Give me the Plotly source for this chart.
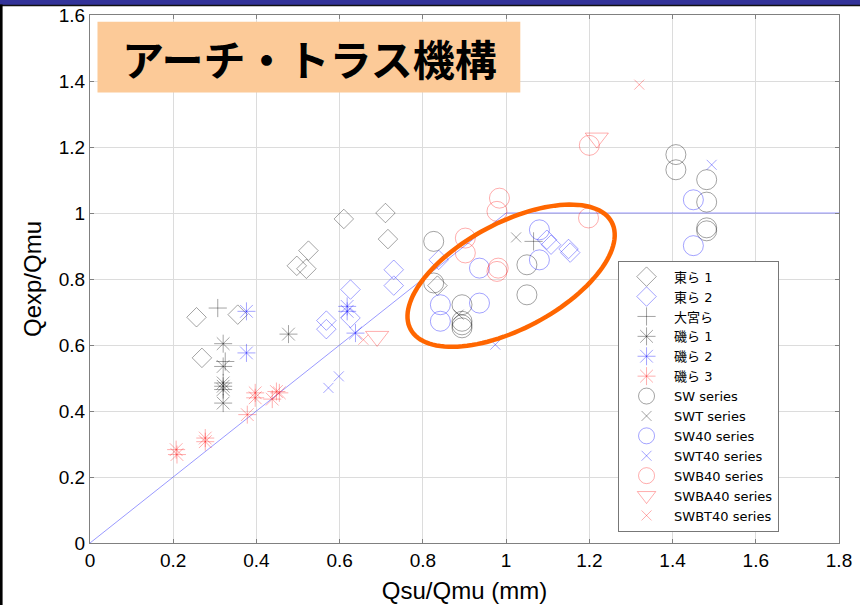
import numpy as np
import plotly.graph_objects as go

# ---------------- data ----------------
higashi1_x = [0.256, 0.269, 0.355, 0.497, 0.525, 0.520, 0.610, 0.710, 0.716, 0.835]
higashi1_y = [0.684, 0.561, 0.692, 0.840, 0.886, 0.831, 0.982, 1.000, 0.921, 0.780]

higashi2_x = [0.568, 0.568, 0.626, 0.626, 0.730, 0.730, 0.838, 1.098, 1.108, 1.150, 1.154]
higashi2_y = [0.674, 0.648, 0.768, 0.682, 0.828, 0.780, 0.858, 0.919, 0.904, 0.891, 0.880]

omiya_x = [0.307, 0.325, 1.066]
omiya_y = [0.712, 0.550, 0.914]

iso1_x = [0.320, 0.320, 0.320, 0.320, 0.320, 0.320, 0.477]
iso1_y = [0.604, 0.535, 0.485, 0.475, 0.465, 0.424, 0.633]

iso2_x = [0.376, 0.376, 0.618, 0.618, 0.638]
iso2_y = [0.702, 0.576, 0.717, 0.702, 0.636]

iso3_x = [0.207, 0.209, 0.277, 0.277, 0.378, 0.397, 0.397, 0.438, 0.448, 0.455]
iso3_y = [0.283, 0.268, 0.318, 0.307, 0.389, 0.455, 0.440, 0.436, 0.459, 0.455]

sw_x = [0.826, 0.826, 0.894, 0.894, 0.894, 0.894, 1.050, 1.050,
        1.408, 1.408, 1.482, 1.482, 1.482, 1.482]
sw_y = [0.914, 0.788, 0.722, 0.672, 0.661, 0.652, 0.843, 0.752,
        1.177, 1.131, 1.101, 1.033, 0.955, 0.946]

swt_x = [1.024, 0.886]
swt_y = [0.926, 0.692]

sw40_x = [0.842, 0.842, 0.936, 0.936, 1.080, 1.080, 1.450, 1.450]
sw40_y = [0.722, 0.672, 0.833, 0.727, 0.949, 0.858, 1.040, 0.901]

swt40_x = [0.598, 0.573, 0.974, 1.494]
swt40_y = [0.505, 0.470, 0.601, 1.146]

swb40_x = [0.984, 0.978, 0.902, 0.902, 0.981, 0.978, 1.198, 1.200]
swb40_y = [1.045, 1.005, 0.924, 0.879, 0.833, 0.823, 0.985, 1.205]

swba40_x = [0.690, 1.218]
swba40_y = [0.626, 1.227]

swbt40_x = [1.320, 0.657]
swbt40_y = [1.389, 0.616]

# reference line: Qexp/Qmu = min(Qsu/Qmu, 1)
ref_x = [0.0, 1.0, 1.8]
ref_y = [0.0, 1.0, 1.0]

x_ticks = [0, 0.2, 0.4, 0.6, 0.8, 1.0, 1.2, 1.4, 1.6, 1.8]
x_tick_text = ["0", "0.2", "0.4", "0.6", "0.8", "1", "1.2", "1.4", "1.6", "1.8"]
y_ticks = [0, 0.2, 0.4, 0.6, 0.8, 1.0, 1.2, 1.4, 1.6]
y_tick_text = ["0", "0.2", "0.4", "0.6", "0.8", "1", "1.2", "1.4", "1.6"]

series_names = ["東ら 1", "東ら 2", "大宮ら", "磯ら 1", "磯ら 2", "磯ら 3",
                "SW series", "SWT series", "SW40 series", "SWT40 series",
                "SWB40 series", "SWBA40 series", "SWBT40 series"]

# ---------------- styles ----------------
BLACK = "rgba(0,0,0,0.36)"
BLUE = "rgba(0,0,255,0.36)"
RED = "rgba(255,0,0,0.32)"

series = [
    (higashi1_x, higashi1_y, "diamond-open", BLACK, 15),
    (higashi2_x, higashi2_y, "diamond-open", BLUE, 15),
    (omiya_x, omiya_y, "cross-thin-open", BLACK, 13),
    (iso1_x, iso1_y, "asterisk-open", BLACK, 15),
    (iso2_x, iso2_y, "asterisk-open", BLUE, 15),
    (iso3_x, iso3_y, "asterisk-open", RED, 15),
    (sw_x, sw_y, "circle-open", BLACK, 20),
    (swt_x, swt_y, "x-thin-open", BLACK, 10),
    (sw40_x, sw40_y, "circle-open", BLUE, 20),
    (swt40_x, swt40_y, "x-thin-open", BLUE, 10),
    (swb40_x, swb40_y, "circle-open", RED, 20),
    (swba40_x, swba40_y, "triangle-down-open", RED, 20),
    (swbt40_x, swbt40_y, "x-thin-open", RED, 10),
]

FONT = "Liberation Sans, Arial, Noto Sans CJK JP, sans-serif"
LEGEND_FONT = "DejaVu Sans, Noto Sans CJK JP, sans-serif"

fig = go.Figure()

fig.add_trace(go.Scatter(x=ref_x, y=ref_y, mode="lines",
                         line=dict(color="rgba(0,0,255,0.4)", width=1),
                         showlegend=False, hoverinfo="skip"))

for name, (xs, ys, sym, col, size) in zip(series_names, series):
    fig.add_trace(go.Scatter(
        x=xs, y=ys, mode="markers", name=name,
        marker=dict(symbol=sym, color=col, size=size, line=dict(width=1, color=col)),
    ))

# ---------------- orange ellipse annotation ----------------
PX_PER_X = 416.4   # pixels per x unit
PX_PER_Y = 330.0   # pixels per y unit
ell_cx, ell_cy = 1.012, 0.810      # centre (data units)
ell_a, ell_b = 114.0, 53.0         # semi axes (pixels)
ell_ang = np.deg2rad(28.0)         # tilt (up-right)
t = np.linspace(0, 2 * np.pi, 121)
du = ell_a * np.cos(t)
dv = ell_b * np.sin(t)
dx_px = du * np.cos(ell_ang) - dv * np.sin(ell_ang)
dy_px = du * np.sin(ell_ang) + dv * np.cos(ell_ang)
ex = ell_cx + dx_px / PX_PER_X
ey = ell_cy + dy_px / PX_PER_Y
path = "M " + " L ".join(f"{a:.4f},{b:.4f}" for a, b in zip(ex, ey)) + " Z"

shapes = [
    dict(type="path", path=path, xref="x", yref="y",
         line=dict(color="#FF6600", width=4.5), fillcolor="rgba(0,0,0,0)"),
    # title background
    dict(type="rect", xref="paper", yref="paper", x0=0.010, x1=0.5745, y0=0.853, y1=0.987,
         fillcolor="#FCCA98", line=dict(width=0), layer="above"),
    # slide frame: top blue bar, black rule, left black edge
    dict(type="rect", xref="paper", yref="paper", x0=-0.2, x1=1.1, y0=1.0185, y1=1.1,
         fillcolor="#333399", line=dict(width=0)),
    dict(type="rect", xref="paper", yref="paper", x0=-0.2, x1=1.1, y0=1.0165, y1=1.0195,
         fillcolor="#111111", line=dict(width=0)),
    dict(type="rect", xref="paper", yref="paper", x0=-0.2, x1=-0.1167, y0=-0.2, y1=1.02,
         fillcolor="#000000", line=dict(width=0)),
]

fig.update_layout(
    width=860, height=605,
    margin=dict(l=90, r=21, t=15, b=62, autoexpand=False),
    paper_bgcolor="white", plot_bgcolor="white",
    font=dict(family=FONT, color="black"),
    shapes=shapes,
    annotations=[dict(
        text="<b>アーチ・トラス機構</b>", xref="paper", yref="paper",
        x=0.293, y=0.92, xanchor="center", yanchor="middle", showarrow=False,
        font=dict(family="Noto Sans CJK JP", size=42, color="black"),
    )],
    legend=dict(
        x=0.705, y=0.0214, xanchor="left", yanchor="bottom",
        bgcolor="white", bordercolor="#777777", borderwidth=1,
        font=dict(family=LEGEND_FONT, size=13, color="black"),
        itemwidth=45, tracegroupgap=0,
    ),
    xaxis=dict(
        range=[0, 1.8], tickvals=x_ticks, ticktext=x_tick_text, automargin=False,
        showgrid=True, gridcolor="#dcdcdc", gridwidth=1, zeroline=False,
        showline=True, linecolor="#808080", linewidth=1, mirror="ticks",
        ticks="inside", ticklen=4, tickcolor="#808080",
        tickfont=dict(size=19, family=FONT),
        title=dict(text="Qsu/Qmu (mm)", font=dict(size=24, family=FONT), standoff=12),
    ),
    yaxis=dict(
        range=[0, 1.6], tickvals=y_ticks, ticktext=y_tick_text, automargin=False,
        showgrid=True, gridcolor="#dcdcdc", gridwidth=1, zeroline=False,
        showline=True, linecolor="#808080", linewidth=1, mirror="ticks",
        ticks="inside", ticklen=4, tickcolor="#808080",
        tickfont=dict(size=19, family=FONT),
        title=dict(text="Qexp/Qmu", font=dict(size=24, family=FONT), standoff=10),
    ),
)

# remove the browser's default page margin so the figure fills the window exactly
fig.write_html("out.html", config={"displayModeBar": False},
               post_script="document.body.style.margin='0';")
